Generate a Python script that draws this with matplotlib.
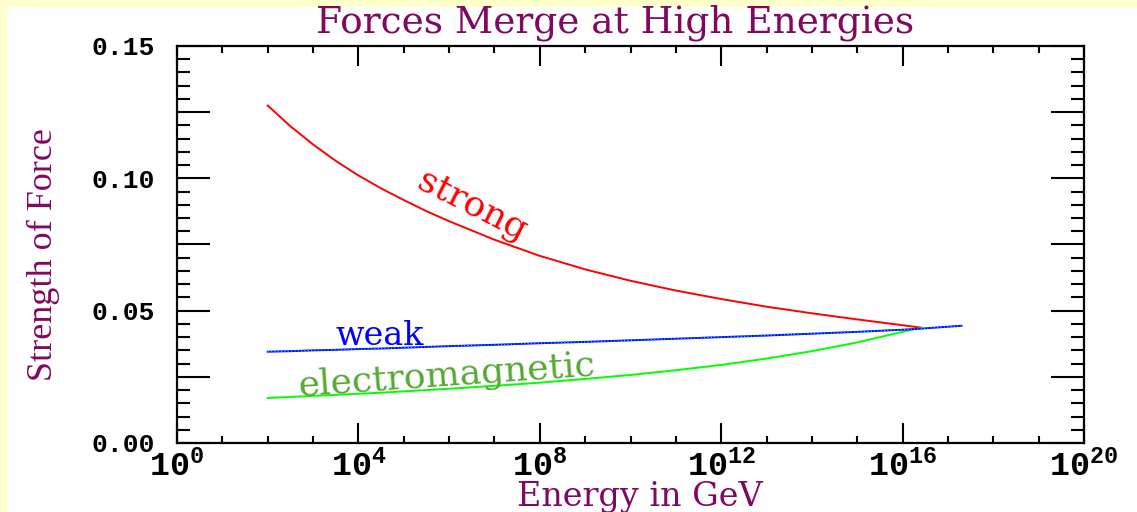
import matplotlib
matplotlib.use("Agg")
import matplotlib.pyplot as plt
from matplotlib.ticker import FixedLocator, FuncFormatter, NullFormatter
from matplotlib.patches import Rectangle

# ---- data ----
energy_gev = [1e2, 3.16e2, 1e3, 3.16e3, 1e4, 3.16e4, 1e5, 3.16e5, 1e6, 1e7, 1e8,
              1e9, 1e10, 1e11, 1e12, 1e13, 1e14, 1e15, 1e16, 2.5e16]
strong = [0.1275, 0.1197, 0.1128, 0.1066, 0.1011, 0.0962, 0.0918, 0.0876, 0.0838,
          0.0768, 0.0707, 0.0656, 0.0613, 0.0576, 0.0544, 0.0515, 0.049, 0.0467,
          0.0445, 0.0436]
weak_energy_gev = energy_gev + [2e17]
weak = [0.0345, 0.0347, 0.035, 0.0352, 0.0355, 0.0357, 0.036, 0.0363, 0.0366,
        0.0371, 0.0377, 0.0382, 0.0388, 0.0394, 0.0400, 0.0406, 0.0413, 0.042,
        0.0428, 0.0432, 0.0443]
electromagnetic = [0.017, 0.0174, 0.0178, 0.0182, 0.0186, 0.019, 0.0195, 0.02,
                   0.0205, 0.0216, 0.0228, 0.0242, 0.0257, 0.0275, 0.0295, 0.0319,
                   0.0347, 0.038, 0.042, 0.0435]

x_major = [1e0, 1e4, 1e8, 1e12, 1e16, 1e20]
x_labels = [r"$10^{0}$", r"$10^{4}$", r"$10^{8}$", r"$10^{12}$", r"$10^{16}$", r"$10^{20}$"]
y_labeled = [0.00, 0.05, 0.10, 0.15]

title = "Forces Merge at High Energies"
xlabel = "Energy in GeV"
ylabel = "Strength of Force"

# ---- style ----
maroon = "#800860"
plt.rcParams["mathtext.fontset"] = "custom"
plt.rcParams["mathtext.rm"] = "Liberation Mono:bold"
plt.rcParams["mathtext.it"] = "Liberation Mono:bold"
plt.rcParams["mathtext.bf"] = "Liberation Mono:bold"

fig = plt.figure(figsize=(11.37, 5.12), dpi=100, facecolor="white")
# light yellow frame strips (top and left)
fig.patches.append(Rectangle((0, 1 - 7 / 512), 1, 7 / 512, transform=fig.transFigure,
                             facecolor="#FFFFCC", edgecolor="none", zorder=0))
fig.patches.append(Rectangle((0, 0), 7 / 1137, 1, transform=fig.transFigure,
                             facecolor="#FFFFCC", edgecolor="none", zorder=0))

ax = fig.add_axes([177 / 1137, 69 / 512, (1084 - 177) / 1137, (443 - 46) / 512])
ax.set_xscale("log")
ax.set_xlim(1e0, 1e20)
ax.set_ylim(0.0, 0.15)

ax.plot(energy_gev, strong, color="#FF0000", lw=1.4, zorder=3)
ax.plot(weak_energy_gev, weak, color="#0000FF", lw=1.4, zorder=4)
ax.plot(weak_energy_gev, weak, color="#00DDFF", lw=0.8, ls=(0, (1, 2)), zorder=5)
ax.plot(energy_gev, electromagnetic, color="#00FF00", lw=1.4, zorder=3)

# ticks
ax.xaxis.set_major_locator(FixedLocator(x_major))
ax.xaxis.set_minor_locator(FixedLocator([10.0 ** k for k in range(0, 21)]))
ax.xaxis.set_minor_formatter(NullFormatter())
ax.set_xticklabels(x_labels)
ax.yaxis.set_major_locator(FixedLocator([0.025 * k for k in range(7)]))
ax.yaxis.set_minor_locator(FixedLocator([0.005 * k for k in range(31)]))


def yfmt(v, pos):
    for t in y_labeled:
        if abs(v - t) < 1e-9:
            return f"{t:.2f}"
    return ""


ax.yaxis.set_major_formatter(FuncFormatter(yfmt))

ax.tick_params(axis="both", which="both", direction="in", top=True, right=True,
               width=1.5, color="black")
ax.tick_params(axis="x", which="major", length=14.5, pad=5, labelsize=24)
ax.tick_params(axis="x", which="minor", length=5)
ax.tick_params(axis="y", which="major", length=24, pad=16)
ax.tick_params(axis="y", which="minor", length=9.5)
for lab in ax.get_yticklabels():
    lab.set_fontfamily("Liberation Mono")
    lab.set_fontweight("bold")
    lab.set_fontsize(19)
for s in ax.spines.values():
    s.set_linewidth(1.6)

# titles
fig.text(615 / 1137, 1 - 23 / 512, title, ha="center", va="center", color=maroon,
         fontsize=27, family="DejaVu Serif")
fig.text(640 / 1137, 1 - 497 / 512, xlabel, ha="center", va="center", color=maroon,
         fontsize=24, family="DejaVu Serif")
fig.text(43 / 1137, 1 - 255 / 512, ylabel, ha="center", va="center", color=maroon,
         fontsize=26, family="Liberation Serif", rotation=90)

# curve labels
ax.text(3.2e6, 0.0895, "strong", color="#FF0000", fontsize=26, family="DejaVu Serif",
        rotation=-27, ha="center", va="center")
ax.text(3e4, 0.0405, "weak", color="#0000FF", fontsize=24, family="DejaVu Serif",
        ha="center", va="center")
ax.text(9e5, 0.0255, "electromagnetic", color="#55AA33", fontsize=26,
        family="DejaVu Serif", rotation=4, ha="center", va="center")

fig.savefig("out.png", dpi=100, facecolor="white")
